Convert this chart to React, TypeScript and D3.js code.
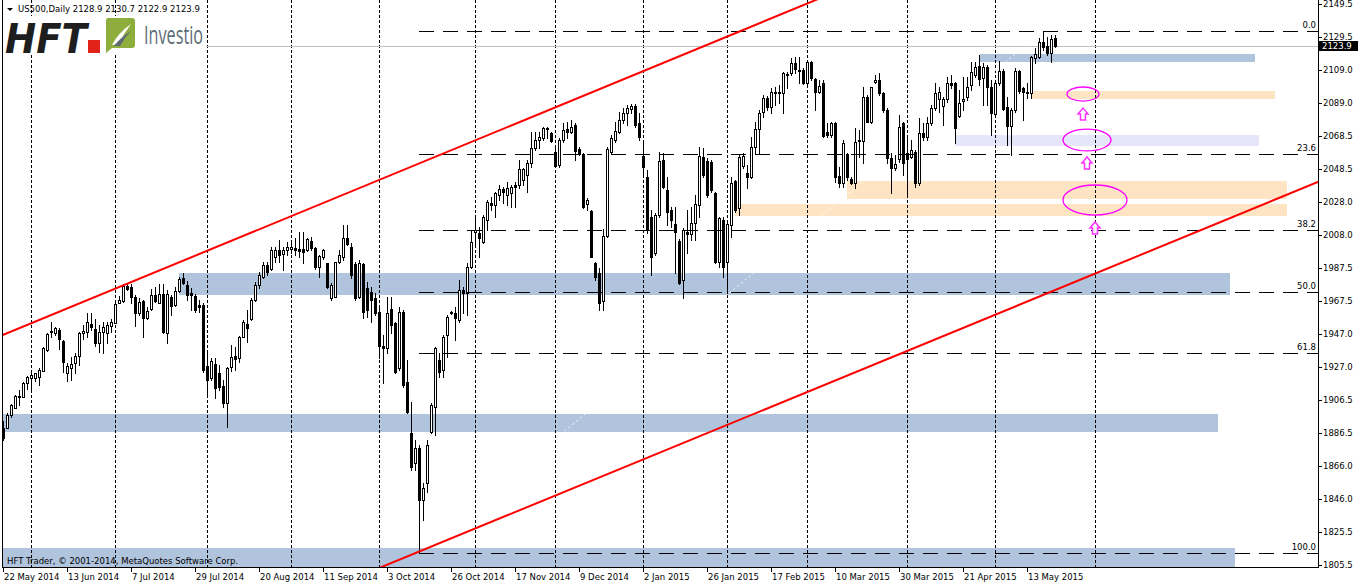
import React from 'react';
import * as d3 from 'd3';

// ---------- DATA ----------
const barOpen = [
1889.5,1889.5,1897.5,1901.8,1909.2,1908.5,1917.1,1920.2,1920.2,1920.8,
1924.5,1937.4,1949.0,1947.8,1949.6,1942.9,1923.3,1926.3,1929.4,1933.7,
1947.8,1948.4,1953.3,1950.2,1941.7,1948.4,1947.8,1952.1,1953.9,1966.2,
1967.4,1976.6,1976.0,1969.9,1960.1,1967.4,1957.0,1962.5,1971.1,1966.2,
1971.7,1947.8,1969.9,1965.0,1973.5,1981.5,1977.2,1972.3,1970.5,1965.0,
1965.0,1927.6,1920.2,1928.8,1923.3,1915.3,1904.9,1926.9,1933.7,1932.5,
1945.3,1953.3,1956.4,1968.0,1977.2,1982.1,1989.5,1987.0,1994.4,1998.7,
1996.2,1998.7,1999.3,1999.9,1999.3,1999.3,1998.7,2004.2,1999.9,1988.3,
1994.4,1990.7,1969.3,1969.9,1991.3,1994.4,2006.0,2000.5,1990.1,1969.9,
1990.1,1975.4,1972.9,1969.3,1960.7,1939.8,1938.6,1962.5,1953.9,1926.3,
1960.7,1917.7,1886.5,1868.1,1877.3,1845.4,1855.8,1887.1,1902.4,1931.2,
1925.1,1946.6,1960.7,1960.1,1955.8,1974.2,1972.3,1988.3,2009.7,2009.1,
2003.6,2017.1,2027.5,2026.3,2032.4,2036.1,2032.4,2033.6,2038.5,2038.5,
2041.6,2044.7,2052.0,2061.2,2066.1,2067.4,2073.5,2070.4,2058.8,2050.8,
2066.1,2072.9,2071.0,2075.3,2060.6,2057.5,2026.9,2022.6,1990.7,1984.6,
1967.4,2007.3,2058.8,2066.1,2071.0,2078.4,2082.7,2085.1,2087.0,2076.5,
2056.3,2043.4,2018.9,1996.8,2020.1,2053.9,2035.5,2023.2,2014.6,2004.2,
1980.3,2009.7,2008.5,2015.2,2026.3,2055.7,2053.2,2052.6,2033.6,1991.3,
2017.1,1991.3,2014.0,2041.0,2024.4,2050.2,2045.9,2043.4,2061.8,2072.9,
2083.3,2091.9,2086.4,2095.6,2094.9,2094.9,2106.6,2107.2,2113.3,2109.0,
2109.0,2101.1,2113.9,2103.5,2095.6,2101.1,2071.0,2069.2,2076.5,2044.1,
2039.8,2057.5,2042.2,2039.8,2065.5,2065.5,2092.5,2077.2,2101.7,2102.9,
2094.9,2084.5,2055.1,2049.0,2054.5,2076.5,2058.2,2055.7,2058.8,2039.8,
2070.4,2068.0,2076.5,2085.7,2091.3,2087.0,2091.3,2101.1,2101.1,2080.8,
2090.0,2092.5,2099.8,2106.0,2111.5,2104.1,2110.9,2098.6,2082.1,2101.1,
2108.4,2086.4,2074.7,2084.5,2108.4,2098.0,2095.6,2094.9,2116.4,2117.0,
2126.2,2123.7,2119.5,2128.9];

const barHigh = [
1893.8,1898.7,1904.3,1909.8,1912.8,1917.7,1921.4,1923.3,1923.3,1926.3,
1939.2,1947.8,1954.5,1951.5,1950.9,1943.5,1929.4,1933.1,1935.5,1948.4,
1952.7,1960.1,1960.1,1956.4,1952.7,1954.5,1954.5,1956.4,1966.2,1970.5,
1977.8,1977.8,1977.8,1971.1,1969.3,1968.0,1963.7,1974.8,1976.0,1977.8,
1977.8,1974.2,1971.1,1976.0,1982.1,1984.6,1979.7,1975.4,1971.7,1968.0,
1966.2,1937.4,1932.5,1932.5,1928.2,1919.0,1926.9,1940.4,1939.2,1946.0,
1955.8,1961.9,1969.3,1979.1,1985.2,1991.3,1991.3,2000.5,2000.5,2004.8,
2000.5,2003.6,2004.8,2006.0,2009.7,2009.7,2006.0,2006.6,2000.5,1995.6,
1999.3,1990.7,1978.4,1991.3,1998.7,2014.0,2014.0,2003.0,1991.3,1992.5,
1990.7,1979.1,1976.0,1972.3,1963.7,1946.6,1969.9,1969.9,1954.5,1963.7,
1961.9,1931.2,1905.5,1882.2,1879.1,1855.8,1882.2,1904.9,1939.2,1935.5,
1946.6,1958.8,1961.3,1963.7,1980.3,1976.0,1990.7,2010.9,2018.9,2012.8,
2020.1,2029.3,2031.2,2034.2,2038.5,2037.3,2040.4,2038.5,2040.4,2053.9,
2049.0,2053.9,2071.0,2071.0,2071.0,2074.1,2074.1,2071.0,2061.8,2067.4,
2076.5,2077.2,2078.4,2076.5,2061.8,2058.2,2030.6,2023.2,1991.3,1987.6,
2011.6,2061.8,2069.2,2077.2,2083.3,2085.7,2087.6,2088.2,2088.2,2082.7,
2066.1,2047.7,2023.2,2021.4,2058.8,2058.2,2043.4,2025.0,2025.0,2005.4,
2012.2,2023.2,2025.0,2032.4,2061.8,2061.2,2055.1,2053.9,2034.2,2018.9,
2018.9,2015.2,2043.4,2041.6,2056.9,2058.2,2050.8,2068.0,2077.2,2084.5,
2093.7,2093.1,2098.0,2098.6,2099.8,2107.8,2107.8,2116.4,2117.0,2117.0,
2110.3,2114.6,2114.6,2104.1,2102.9,2102.9,2076.5,2077.2,2077.2,2049.6,
2066.1,2058.2,2043.4,2073.5,2072.3,2098.6,2093.7,2098.6,2106.0,2107.2,
2095.6,2085.7,2058.2,2056.9,2081.4,2077.2,2068.0,2066.1,2060.0,2079.6,
2076.5,2080.2,2087.6,2101.1,2098.6,2092.5,2104.7,2106.0,2101.7,2096.8,
2104.7,2104.7,2113.9,2113.9,2118.2,2113.3,2112.1,2102.9,2101.7,2114.6,
2109.6,2092.5,2085.7,2110.3,2109.0,2098.6,2101.1,2117.6,2122.5,2128.7,
2133.1,2129.3,2130.5,2130.7];

const barLow = [
1882.2,1889.5,1896.3,1901.8,1903.6,1908.5,1913.5,1913.5,1918.4,1915.9,
1924.5,1936.8,1945.3,1946.6,1938.0,1923.9,1918.4,1919.0,1923.3,1928.2,
1944.1,1945.3,1949.6,1939.8,1936.1,1935.5,1941.7,1948.4,1953.9,1966.2,
1966.8,1974.2,1966.2,1952.1,1958.8,1945.3,1956.4,1961.9,1966.8,1966.2,
1947.8,1941.7,1958.8,1964.3,1972.9,1977.8,1968.0,1961.9,1960.7,1960.7,
1923.9,1909.8,1919.0,1907.9,1912.8,1902.4,1890.2,1924.5,1925.1,1930.0,
1945.3,1942.3,1955.8,1967.4,1975.4,1981.5,1983.4,1986.4,1991.3,1991.3,
1986.4,1995.6,1996.8,1995.6,1994.4,1990.7,1998.1,1998.7,1987.0,1982.1,
1993.2,1975.4,1968.0,1969.9,1990.7,1992.5,2001.7,1981.5,1968.0,1969.3,
1957.0,1957.6,1954.5,1958.8,1932.5,1917.1,1935.5,1947.8,1923.3,1925.1,
1914.7,1898.7,1863.8,1863.8,1812.9,1833.1,1850.3,1886.5,1885.3,1920.8,
1920.8,1933.1,1959.4,1943.5,1954.5,1960.1,1958.8,1987.6,2000.5,1994.4,
2003.0,2010.9,2023.2,2018.9,2029.3,2027.5,2026.3,2025.0,2025.0,2036.7,
2038.5,2034.2,2049.6,2060.0,2061.2,2066.1,2067.4,2064.9,2049.6,2049.6,
2064.9,2067.4,2070.4,2053.9,2056.9,2024.4,2023.2,1994.4,1980.3,1961.9,
1961.9,2006.6,2058.2,2064.9,2070.4,2076.5,2075.3,2082.7,2074.1,2066.1,
2044.7,2009.1,1983.4,1995.6,2018.9,2036.7,2014.0,2012.8,1984.6,1977.8,
1969.3,1996.8,2004.8,2004.8,2018.9,2043.4,2031.2,2034.2,1990.7,1988.3,
1982.1,1972.3,2006.6,2022.0,2020.1,2049.0,2036.7,2042.8,2058.2,2058.2,
2080.2,2084.5,2082.7,2087.6,2088.8,2082.7,2098.0,2106.0,2107.2,2101.1,
2100.5,2099.8,2102.9,2084.5,2094.9,2068.0,2068.0,2068.0,2040.4,2037.3,
2037.3,2041.6,2039.1,2036.7,2055.7,2052.0,2077.2,2076.5,2101.1,2093.7,
2083.3,2052.0,2033.6,2047.7,2052.6,2044.7,2031.2,2055.1,2037.3,2038.5,
2066.1,2066.1,2075.3,2084.5,2083.3,2075.3,2089.4,2098.0,2064.3,2080.2,
2084.5,2090.6,2096.8,2104.7,2099.8,2087.6,2087.6,2069.2,2080.2,2099.8,
2084.5,2063.1,2056.9,2083.3,2094.9,2078.4,2091.9,2091.9,2113.3,2116.4,
2121.3,2118.2,2113.9,2122.9];

const barClose = [
1883.4,1897.5,1903.6,1909.2,1908.5,1917.1,1920.8,1922.0,1923.3,1925.1,
1938.6,1947.2,1948.4,1950.9,1944.1,1930.0,1927.6,1928.8,1933.7,1947.8,
1949.0,1954.5,1951.5,1941.7,1948.4,1951.5,1952.7,1954.5,1965.6,1968.0,
1976.6,1974.8,1969.9,1960.1,1966.8,1957.0,1961.3,1971.1,1967.4,1971.7,
1948.4,1971.7,1964.3,1973.5,1980.9,1978.4,1971.1,1971.1,1961.9,1963.7,
1925.1,1919.0,1930.6,1914.1,1914.7,1904.9,1926.3,1933.1,1931.9,1945.3,
1954.5,1950.9,1968.0,1977.2,1983.4,1989.5,1985.2,1998.7,1998.7,1995.6,
1998.7,2000.5,2000.5,1998.7,1998.1,1997.5,2005.4,1999.9,1988.3,1995.0,
1998.7,1976.0,1977.2,1991.3,1995.6,2006.0,2002.4,1983.4,1969.3,1990.7,
1960.7,1961.9,1968.0,1960.1,1939.8,1938.6,1960.1,1952.7,1923.9,1960.7,
1915.9,1899.4,1865.6,1877.3,1845.4,1852.8,1879.1,1903.6,1938.6,1923.9,
1945.3,1957.6,1960.1,1957.0,1974.2,1972.3,1988.3,2003.6,2010.9,2006.0,
2018.9,2028.1,2026.3,2033.6,2036.1,2034.2,2036.7,2037.3,2037.3,2048.3,
2048.3,2052.0,2061.2,2066.1,2068.0,2073.5,2072.9,2065.5,2050.2,2066.1,
2072.3,2071.0,2074.1,2059.4,2057.5,2025.0,2029.3,1994.4,1982.1,1966.2,
2007.3,2060.6,2067.4,2071.6,2078.4,2082.7,2085.7,2087.0,2075.3,2068.0,
2049.6,2010.9,1994.4,2020.1,2053.2,2037.3,2022.0,2017.1,2009.7,1978.4,
2010.9,2008.5,2015.2,2026.9,2056.3,2044.7,2032.4,2035.5,1991.3,2018.3,
1988.3,2014.6,2039.8,2023.2,2055.7,2056.3,2043.4,2061.8,2072.9,2082.7,
2091.9,2086.4,2095.6,2094.9,2095.6,2107.2,2106.0,2113.3,2109.6,2108.4,
2101.1,2113.9,2104.1,2095.6,2099.2,2068.6,2069.2,2076.5,2043.4,2039.8,
2064.3,2043.4,2039.8,2064.9,2066.1,2092.5,2077.2,2098.6,2102.9,2094.9,
2084.5,2055.1,2049.0,2051.4,2074.1,2052.0,2054.5,2060.0,2039.8,2070.4,
2068.0,2076.5,2085.7,2094.9,2095.6,2091.3,2101.1,2099.8,2073.5,2088.8,
2091.3,2098.6,2107.8,2110.9,2103.5,2110.9,2098.6,2082.7,2101.1,2108.4,
2085.1,2074.7,2084.5,2108.4,2096.2,2095.6,2094.9,2117.0,2118.8,2126.2,
2123.1,2119.5,2128.0,2123.9];

const dateLabels = ['22 May 2014','13 Jun 2014','7 Jul 2014','29 Jul 2014','20 Aug 2014','11 Sep 2014','3 Oct 2014','26 Oct 2014','17 Nov 2014','9 Dec 2014','2 Jan 2015','26 Jan 2015','17 Feb 2015','10 Mar 2015','30 Mar 2015','21 Apr 2015','13 May 2015'];
const dateLabelBars = [0,16,32,48,64,80,96,112,128,144,160,176,192,208,224,240,256];
const monthStartBars = [7,28,51,72,94,118,138,160,181,201,226,248,273];
const priceTicks = [2149.5,2129.5,2109.0,2089.0,2068.5,2048.5,2028.0,2008.0,1987.5,1967.5,1947.0,1927.0,1906.5,1886.5,1866.0,1846.0,1825.5,1805.5];

const fibLevels = [0, 23.6, 38.2, 50.0, 61.8, 100.0];
const fibAnchor = { barLow: 104, low: 1812.9, barHigh: 260, high: 2133.1 };

const zoneFrom = [44, -1, -1, 244.25, 257.25, 238, 211, 183];
const zoneTo = [306.75, 303.75, 308, 313, 318, 314, 321, 321];
const zoneTop = [1984.6, 1898.1, 1816.0, 2118.8, 2096.2, 2069.2, 2041.0, 2026.9];
const zoneBottom = [1971.1, 1887.1, 1795.0, 2113.9, 2091.3, 2062.4, 2029.9, 2019.5];
const zoneKind = ['blue','blue','blue','blue','orange','lavender','orange','orange'];

const trendUpper = { b0: 0, p0: 1946.6, b1: 200.75, p1: 2149.5 };
const trendLower = { b0: 104, p0: 1813.7, b1: 328.75, p1: 2040.4 };

const ellipseBar = [270, 271, 273];
const ellipsePrice = [2094.3, 2066.1, 2029.3];
const ellipseBarR = [4, 6, 8];
const ellipsePriceR = [4.3, 6.7, 9.2];
const arrowBar = [270, 271, 273];
const arrowPrice = [2082.0, 2052.0, 2012.2];

const lastPrice = 2123.9;

// ---------- LAYOUT ----------
const W = 1358, H = 586;
const PL = 2, PR = 1318, PT = 0, PB = 567;
const FONT = 'DejaVu Sans';
const zoneColor: Record<string, string> = { blue: '#B0C4DE', orange: '#FFE4C4', lavender: '#E6E6FA' };

const x = d3.scaleLinear().domain([0, 263]).range([3, 1055]);
const y = d3.scaleLinear().domain([1805.5, 2149.5]).range([565, 4]);
const crisp = (v: number) => Math.round(v) + 0.5;

function lineThrough(t: { b0: number; p0: number; b1: number; p1: number }, bA: number, bB: number) {
  const s = (t.p1 - t.p0) / (t.b1 - t.b0);
  return [[x(bA), y(t.p0 + s * (bA - t.b0))], [x(bB), y(t.p0 + s * (bB - t.b0))]] as [number, number][];
}

export default function App() {
  const candles = barOpen.map((o, i) => {
    const c = barClose[i];
    const cx = Math.round(x(i));
    const top = Math.round(y(Math.max(o, c)));
    const bot = Math.round(y(Math.min(o, c)));
    const hi = Math.round(y(barHigh[i]));
    const lo = Math.round(y(barLow[i]));
    const bull = c > o;
    let body;
    if (bot - top < 1) {
      body = <line x1={cx - 1} x2={cx + 2} y1={top + 0.5} y2={top + 0.5} stroke="#000" />;
    } else if (bull) {
      body = <rect x={cx - 0.5} y={top + 0.5} width={2} height={bot - top} fill="#fff" stroke="#000" />;
    } else {
      body = <rect x={cx - 1} y={top} width={3} height={bot - top + 1} fill="#000" />;
    }
    return (
      <g key={i}>
        <line x1={cx + 0.5} x2={cx + 0.5} y1={hi} y2={lo + 1} stroke="#000" />
        {body}
      </g>
    );
  });

  const fibRange = fibAnchor.high - fibAnchor.low;
  const lineGen = d3.line();

  return (
    <div style={{ position: 'fixed', left: 0, top: 0 }}>
      <svg width={W} height={H} style={{ display: 'block', background: '#fff' }}>
        <defs>
          <clipPath id="plot"><rect x={PL + 1} y={PT} width={PR - PL - 1} height={PB - PT} /></clipPath>
        </defs>
        <rect x={0} y={0} width={W} height={H} fill="#fff" />
        <g clipPath="url(#plot)">
          {zoneFrom.map((f, k) => (
            <rect key={k} x={Math.round(x(f))} y={Math.round(y(zoneTop[k]))}
              width={Math.round(x(zoneTo[k])) - Math.round(x(f))}
              height={Math.round(y(zoneBottom[k])) - Math.round(y(zoneTop[k]))}
              fill={zoneColor[zoneKind[k]]} />
          ))}
          {monthStartBars.map((b, k) => (
            <line key={k} x1={crisp(x(b))} x2={crisp(x(b))} y1={PT} y2={PB} stroke="#000" strokeDasharray="3,2" />
          ))}
          <line x1={PL} x2={PR} y1={crisp(y(lastPrice))} y2={crisp(y(lastPrice))} stroke="#C0C0C0" />
          <path d={lineGen([[x(fibAnchor.barLow), y(fibAnchor.low)], [x(fibAnchor.barHigh), y(fibAnchor.high)]]) || ''}
            stroke="#fff" strokeDasharray="2,3" fill="none" />
          {candles}
          {fibLevels.map((lv, k) => {
            const yy = crisp(y(fibAnchor.high - (lv / 100) * fibRange));
            return <line key={k} x1={x(fibAnchor.barLow)} x2={PR} y1={yy} y2={yy} stroke="#000" strokeDasharray="15,9" />;
          })}
          <path d={lineGen(lineThrough(trendUpper, -2, 215)) || ''} stroke="#FF0000" strokeWidth={2} fill="none" />
          <path d={lineGen(lineThrough(trendLower, 80, 335)) || ''} stroke="#FF0000" strokeWidth={2} fill="none" />
          {ellipseBar.map((b, k) => (
            <ellipse key={k} cx={x(b)} cy={y(ellipsePrice[k])} rx={x(b + ellipseBarR[k]) - x(b)}
              ry={y(ellipsePrice[k] - ellipsePriceR[k]) - y(ellipsePrice[k])}
              fill="none" stroke="#FF00FF" strokeWidth={1.3} />
          ))}
          {arrowBar.map((b, k) => {
            const cx = x(b), cy = y(arrowPrice[k]);
            const d = `M${cx - 5},${cy} L${cx},${cy - 6} L${cx + 5},${cy} L${cx + 2.5},${cy} L${cx + 2.5},${cy + 6} L${cx - 2.5},${cy + 6} L${cx - 2.5},${cy} Z`;
            return <path key={k} d={d} fill="#fff" stroke="#FF33FF" strokeWidth={1.5} />;
          })}
        </g>

        {fibLevels.map((lv, k) => {
          const yy = y(fibAnchor.high - (lv / 100) * fibRange);
          return <text key={k} x={1316} y={yy - 3} textAnchor="end" fontFamily={FONT} fontSize={8.5} fill="#000">{lv.toFixed(1)}</text>;
        })}

        {/* logo */}
        <rect x={3} y={16} width={203} height={39} fill="#fff" />
        <text x={5} y={53} fontFamily={FONT} fontWeight="bold" fontStyle="italic" fontSize={41}
          textLength={82} lengthAdjust="spacingAndGlyphs" fill="#1e1e1e">HFT</text>
        <rect x={88} y={40} width={12} height={13} fill="#E2231A" />
        <path d="M108,18 L132,18 Q135,18 135,21 L135,45 Q135,48 132,48 L112,48 L106,53 L106,21 Q106,18 108,18 Z" fill="#8DAE3C" />
        <path d="M112,45 Q118,33 131,24 Q124,33 119,44 Z" fill="#fff" />
        <path d="M114,46 Q121,37 131,31 Q124,38 120,46 Z" fill="#5b6a72" />
        <text x={144} y={44} fontFamily="Open Sans" fontSize={25} textLength={59} lengthAdjust="spacingAndGlyphs" fill="#5D6D77">Investio</text>

        {/* header */}
        <path d="M7,8 L13,8 L10,11 Z" fill="#000" />
        <text x={18} y={12} fontFamily={FONT} fontSize={8.5} fill="#000">US500,Daily  2128.9 2130.7 2122.9 2123.9</text>
        <text x={7} y={564} fontFamily={FONT} fontSize={8.5} fill="#000">HFT Trader, © 2001-2014, MetaQuotes Software Corp.</text>

        {/* frame */}
        <line x1={PL + 0.5} x2={PL + 0.5} y1={0} y2={PB + 1} stroke="#000" />
        <line x1={PL} x2={PR + 1} y1={PB + 0.5} y2={PB + 0.5} stroke="#000" />
        <line x1={PR + 0.5} x2={PR + 0.5} y1={0} y2={PB + 1} stroke="#000" />

        {/* y axis */}
        {priceTicks.map((p, k) => (
          <g key={k}>
            <line x1={PR + 1} x2={PR + 4} y1={crisp(y(p))} y2={crisp(y(p))} stroke="#000" />
            <text x={PR + 5} y={y(p)} dy="0.35em" fontFamily={FONT} fontSize={8.5} fill="#000">{p.toFixed(1)}</text>
          </g>
        ))}
        <rect x={PR + 1} y={Math.round(y(lastPrice)) - 5} width={39} height={10} fill="#000" />
        <text x={PR + 4} y={y(lastPrice)} dy="0.35em" fontFamily={FONT} fontSize={8.5} fill="#fff">{lastPrice.toFixed(1)}</text>

        {/* x axis */}
        {dateLabelBars.map((b, k) => (
          <g key={k}>
            <line x1={crisp(x(b))} x2={crisp(x(b))} y1={PB + 1} y2={PB + 5} stroke="#000" />
            <text x={x(b) + 1} y={580} fontFamily={FONT} fontSize={8.5} fill="#000">{dateLabels[k]}</text>
          </g>
        ))}
      </svg>
    </div>
  );
}
